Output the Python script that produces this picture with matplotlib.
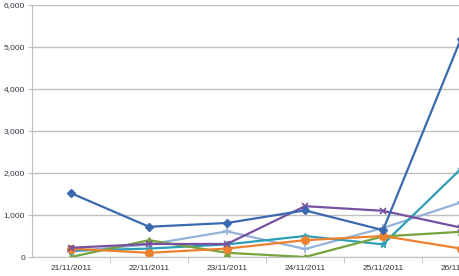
import matplotlib
matplotlib.use('Agg')
import matplotlib.pyplot as plt
from matplotlib.ticker import FuncFormatter, FixedLocator

plt.rcParams['font.family'] = ['Liberation Sans', 'DejaVu Sans']

dates = ['21/11/2011', '22/11/2011', '23/11/2011', '24/11/2011', '25/11/2011', '26/11/2011']

s_blue = [1520, 720, 810, 1110, 640, 5200]
s_orange = [200, 100, 200, 400, 500, 200]
s_green = [0, 400, 100, 0, 490, 600]
s_purple = [220, 310, 310, 1210, 1100, 700]
s_lightblue = [130, 300, 610, 190, 690, 1300]
s_teal = [150, 200, 300, 500, 300, 2100]

fig = plt.figure(figsize=(4.6, 2.76), dpi=100)
# plot area runs off the right edge in the original screenshot
ax = fig.add_axes([32/460, 19/276, 468/460, 252/276])

x = list(range(len(dates)))
ax.plot(x, s_lightblue, color='#95B3D7', lw=1.6, marker='+', ms=6, mew=1.2)
ax.plot(x, s_teal, color='#2E9FB4', lw=1.6, marker='*', ms=5)
ax.plot(x, s_green, color='#77A33E', lw=1.6, marker='^', ms=5)
ax.plot(x, s_orange, color='#EE8130', lw=1.6, marker='o', ms=5.5)
ax.plot(x, s_purple, color='#7651A0', lw=1.6, marker='x', ms=5, mew=1.2)
ax.plot(x, s_blue, color='#3A69B0', lw=1.6, marker='D', ms=4)

ax.set_xlim(-0.5, len(dates) - 0.5)
ax.set_ylim(0, 6000)
ax.set_yticks(range(0, 6001, 1000))
ax.yaxis.set_major_formatter(FuncFormatter(lambda v, p: f'{int(v):,}'))
ax.grid(axis='y', color='#BFBFBF', lw=1)
ax.set_axisbelow(True)

ax.set_xticks(x)
ax.set_xticklabels(dates)
ax.xaxis.set_minor_locator(FixedLocator([i + 0.5 for i in range(len(dates) - 1)]))
ax.tick_params(axis='x', which='major', length=0, labelsize=6, labelcolor='#333333', pad=6)
ax.tick_params(axis='x', which='minor', length=4, color='#BFBFBF')
ax.tick_params(axis='y', length=3, color='#BFBFBF', labelsize=6, labelcolor='#333344', pad=2)

for side in ['top', 'right']:
    ax.spines[side].set_visible(False)
ax.spines['left'].set_color('#BFBFBF')
ax.spines['bottom'].set_color('#BFBFBF')

fig.savefig('out.png', dpi=100)
